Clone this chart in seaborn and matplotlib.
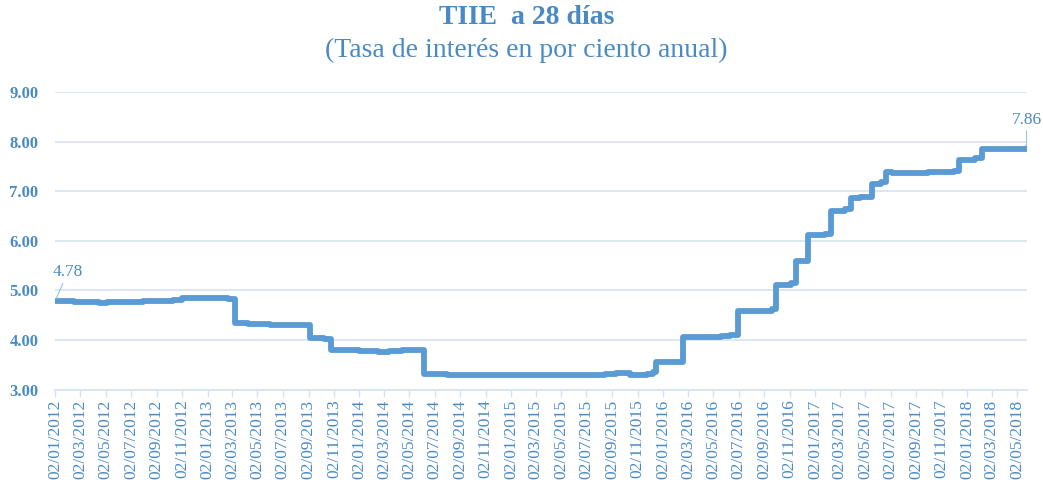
import pandas as pd
import matplotlib
matplotlib.use('Agg')
import matplotlib.pyplot as plt
import matplotlib.dates as mdates
import seaborn as sns

# TIIE a 28 dias - breakpoints (value holds until next date)
fechas = ['2012-01-02', '2012-02-15', '2012-03-20', '2012-04-15', '2012-05-05',
          '2012-06-15', '2012-08-01', '2012-09-15', '2012-10-10', '2012-11-01',
          '2013-01-15', '2013-02-20', '2013-03-08', '2013-04-10', '2013-06-01',
          '2013-06-20', '2013-08-15', '2013-09-06', '2013-10-10', '2013-10-25',
          '2014-01-01', '2014-02-15', '2014-03-15', '2014-04-15', '2014-06-06',
          '2014-08-01', '2014-10-15', '2015-01-15', '2015-06-01', '2015-08-15',
          '2015-09-10', '2015-10-15', '2015-11-25', '2015-12-10', '2015-12-17',
          '2016-02-18', '2016-05-20', '2016-06-10', '2016-06-30', '2016-09-20',
          '2016-09-29', '2016-11-05', '2016-11-17', '2016-12-15', '2017-01-25',
          '2017-02-09', '2017-03-15', '2017-03-30', '2017-04-20', '2017-05-18',
          '2017-06-10', '2017-06-22', '2017-07-05', '2017-10-01', '2017-12-01',
          '2017-12-14', '2018-01-20', '2018-02-08', '2018-04-01', '2018-05-25']
tiie = [4.79, 4.77, 4.76, 4.74, 4.76,
        4.77, 4.78, 4.79, 4.81, 4.84,
        4.84, 4.82, 4.35, 4.33, 4.30,
        4.31, 4.30, 4.04, 4.02, 3.80,
        3.79, 3.77, 3.79, 3.81, 3.31,
        3.30, 3.29, 3.30, 3.29, 3.32,
        3.33, 3.30, 3.32, 3.35, 3.56,
        4.06, 4.09, 4.10, 4.59, 4.62,
        5.11, 5.16, 5.60, 6.11, 6.13,
        6.61, 6.65, 6.86, 6.89, 7.14,
        7.18, 7.38, 7.37, 7.38, 7.40,
        7.62, 7.66, 7.84, 7.85, 7.86]

etiqueta_ini = '4.78'
etiqueta_fin = '7.86'

df = pd.DataFrame({'fecha': pd.to_datetime(fechas), 'tiie': tiie})

azul = '#5B9BD5'
texto = '#4A8AC4'
rejilla = '#D5E3F1'

sns.set_theme(style='white')
plt.rcParams['font.family'] = ['Liberation Serif', 'DejaVu Serif']

fig = plt.figure(figsize=(10.43, 4.86), dpi=100)
ax = fig.add_axes([0.053, 0.198, 0.932, 0.613])

sns.lineplot(data=df, x='fecha', y='tiie', ax=ax, color=azul, linewidth=4.2,
             drawstyle='steps-post', solid_joinstyle='round')

ax.set_ylim(3, 9)
ax.set_yticks([3, 4, 5, 6, 7, 8, 9])
ax.yaxis.set_major_formatter(matplotlib.ticker.FormatStrFormatter('%.2f'))
ax.set_xlim(df['fecha'].iloc[0], df['fecha'].iloc[-1] + pd.Timedelta(days=2))
ax.xaxis.set_major_locator(mdates.MonthLocator(bymonth=range(1, 13, 2), bymonthday=2))
ax.xaxis.set_major_formatter(mdates.DateFormatter('%d/%m/%Y'))

ax.grid(axis='y', color=rejilla, linewidth=1.2)
ax.set_axisbelow(True)
for s in ['top', 'right', 'left']:
    ax.spines[s].set_visible(False)
ax.spines['bottom'].set_color(rejilla)
ax.spines['bottom'].set_linewidth(1.2)

ax.tick_params(axis='y', length=0, pad=12, labelsize=12, labelcolor=texto)
ax.tick_params(axis='x', direction='out', length=5, width=1, color=rejilla,
               pad=2, labelsize=12.5, labelcolor=texto, rotation=90, bottom=True)
for lbl in ax.get_yticklabels():
    lbl.set_fontweight('bold')
ax.set_xlabel('')
ax.set_ylabel('')

# value labels at the ends
ax.annotate(etiqueta_ini, xy=(df['fecha'].iloc[0], df['tiie'].iloc[0]),
            xytext=(9, 15), textcoords='offset points', ha='center', va='bottom',
            fontsize=12.5, color=texto,
            arrowprops=dict(arrowstyle='-', color='#9DC0E3', lw=0.8, shrinkA=0, shrinkB=2))
ax.annotate(etiqueta_fin, xy=(df['fecha'].iloc[-1], df['tiie'].iloc[-1]),
            xytext=(0, 15), textcoords='offset points', ha='center', va='bottom',
            fontsize=12.5, color=texto, annotation_clip=False,
            arrowprops=dict(arrowstyle='-', color='#9DC0E3', lw=0.8, shrinkA=0, shrinkB=2))

fig.text(0.505, 0.963, 'TIIE  a 28 días', ha='center', va='center',
         fontsize=20, fontweight='bold', color=texto)
fig.text(0.505, 0.897, '(Tasa de interés en por ciento anual)', ha='center',
         va='center', fontsize=20, color=texto)

fig.savefig('out.png', dpi=100)
